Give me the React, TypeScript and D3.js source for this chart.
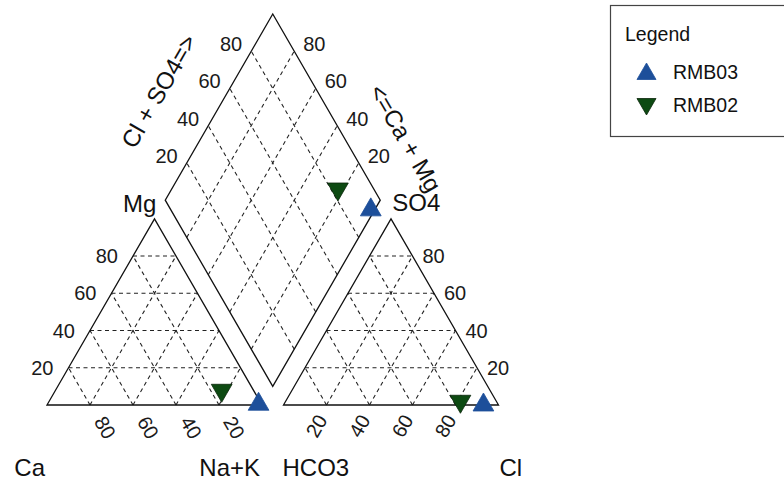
import React from 'react';
import * as d3 from 'd3';

// ---- data (percent of meq) ----
const samples = ['RMB03', 'RMB02'];
const caPct = [1.4, 14.8];
const mgPct = [0.4, 7.9];
const nakPct = [98.2, 77.3];
const hco3Pct = [7, 16.7];
const so4Pct = [0, 2];
const clPct = [93, 81.3];
const sampleColors = ['#1d4f9a', '#0d4a12'];
const sampleShapes = ['up', 'down'];
const gridPct = [20, 40, 60, 80];

const H = Math.sqrt(3) / 2;
const FONT = '"Liberation Sans", Arial, sans-serif';

const xs = d3.scaleLinear().domain([0, 1]).range([47, 262]);
const ys = d3.scaleLinear().domain([0, 1]).range([405, 190]);
const X = (u: number) => xs(u);
const Y = (v: number) => ys(v);

type P = [number, number];
const pt = (p: P) => `${X(p[0]).toFixed(2)},${Y(p[1]).toFixed(2)}`;
const poly = (ps: P[]) => ps.map(pt).join(' ');

function tri(x: number, y: number, r: number, up: boolean) {
  const w = r * H;
  if (up) return `${x},${y - r} ${x + w},${y + r / 2} ${x - w},${y + r / 2}`;
  return `${x},${y + r} ${x + w},${y - r / 2} ${x - w},${y - r / 2}`;
}

export default function App() {
  const off = 1.1;
  const B: P = [1.05, 0.1 * H];
  const L: P = [B[0] - 0.5, B[1] + H];
  const R: P = [B[0] + 0.5, B[1] + H];
  const T: P = [B[0], B[1] + 2 * H];

  const grid: [P, P][] = [];
  gridPct.forEach((p) => {
    const f = p / 100;
    // left triangle
    grid.push([[f / 2, f * H], [1 - f / 2, f * H]]);
    grid.push([[1 - f, 0], [(1 - f) / 2, (1 - f) * H]]);
    grid.push([[f, 0], [f + (1 - f) / 2, (1 - f) * H]]);
    // right triangle
    grid.push([[off + f / 2, f * H], [off + 1 - f / 2, f * H]]);
    grid.push([[off + f, 0], [off + f + (1 - f) / 2, (1 - f) * H]]);
    grid.push([[off + 1 - f, 0], [off + (1 - f) / 2, (1 - f) * H]]);
    // diamond
    const a: P = [B[0] - 0.5 * f, B[1] + H * f];
    grid.push([a, [a[0] + 0.5, a[1] + H]]);
    const b: P = [B[0] + 0.5 * f, B[1] + H * f];
    grid.push([b, [b[0] - 0.5, b[1] + H]]);
  });

  const pts = samples.map((s, i) => {
    const uc = nakPct[i] / 100 + mgPct[i] / 200;
    const vc = (mgPct[i] / 100) * H;
    const ua = off + clPct[i] / 100 + so4Pct[i] / 200;
    const va = (so4Pct[i] / 100) * H;
    const t = ((ua - uc) / 0.5 + (va - vc) / H) / 2;
    const ud = uc + 0.5 * t;
    const vd = vc + H * t;
    return { s, i, c: [uc, vc] as P, a: [ua, va] as P, d: [ud, vd] as P };
  });

  const tickFs = 20;
  const nameFs = 24;

  const midUL: P = [(L[0] + T[0]) / 2, (L[1] + T[1]) / 2];
  const midUR: P = [(R[0] + T[0]) / 2, (R[1] + T[1]) / 2];

  return (
    <svg width={784} height={485} style={{ display: 'block', position: 'absolute', left: 0, top: 0 }} fontFamily={FONT}>
      <rect x={0} y={0} width={784} height={485} fill="#fff" />
      {/* grid */}
      <g stroke="#222" strokeWidth={1.1} strokeDasharray="4,3.5" fill="none">
        {grid.map((g, k) => (
          <line key={k} x1={X(g[0][0])} y1={Y(g[0][1])} x2={X(g[1][0])} y2={Y(g[1][1])} />
        ))}
      </g>
      {/* outlines */}
      <g stroke="#111" strokeWidth={1.3} fill="none">
        <polygon points={poly([[0, 0], [1, 0], [0.5, H]])} />
        <polygon points={poly([[off, 0], [off + 1, 0], [off + 0.5, H]])} />
        <polygon points={poly([B, R, T, L])} />
      </g>
      {/* tick labels */}
      <g fontSize={tickFs} fill="#1a1a1a">
        {gridPct.map((p) => {
          const f = p / 100;
          const d = 15;
          return (
            <g key={p}>
              <text x={X(f / 2) - 15} y={Y(f * H)} textAnchor="end" dominantBaseline="central">{p}</text>
              <text transform={`translate(${X(1 - f) + d * 0.5 + 2},${Y(0) + d * H}) rotate(60)`} textAnchor="start" dominantBaseline="central">{p}</text>
              <text x={X(off + 1 - f / 2) + 10} y={Y(f * H)} textAnchor="start" dominantBaseline="central">{p}</text>
              <text transform={`translate(${X(off + f) - 13 * 0.5 + 2},${Y(0) + 13 * H}) rotate(-60)`} textAnchor="end" dominantBaseline="central">{p}</text>
              <text x={X(L[0] + 0.5 * f) - 9} y={Y(L[1] + H * f) - 7} textAnchor="end" dominantBaseline="central">{p}</text>
              <text x={X(R[0] - 0.5 * f) + 9} y={Y(R[1] + H * f) - 7} textAnchor="start" dominantBaseline="central">{p}</text>
            </g>
          );
        })}
      </g>
      {/* axis names */}
      <g fontSize={nameFs} fill="#111">
        <text x={X(0) - 2} y={476} textAnchor="end">Ca</text>
        <text x={X(1) - 2} y={476} textAnchor="end">Na+K</text>
        <text x={X(off) - 1} y={476} textAnchor="start">HCO3</text>
        <text x={X(off + 1) + 1} y={476} textAnchor="start">Cl</text>
        <text x={X(L[0]) - 9} y={Y(L[1]) + 3} textAnchor="end" dominantBaseline="central">Mg</text>
        <text x={X(R[0]) + 12} y={Y(R[1]) + 2} textAnchor="start" dominantBaseline="central">SO4</text>
        <text transform={`translate(${X(midUL[0]) - 60},${Y(midUL[1]) - 16}) rotate(-60)`} textAnchor="middle" dominantBaseline="central">{'Cl + SO4=>'}</text>
        <text transform={`translate(${X(midUR[0]) + 79},${Y(midUR[1]) + 31}) rotate(60)`} textAnchor="middle" dominantBaseline="central">{'<=Ca + Mg'}</text>
      </g>
      {/* points */}
      {pts.map((p) => {
        const up = sampleShapes[p.i] === 'up';
        const col = sampleColors[p.i];
        return (
          <g key={p.s} fill={col} stroke={up ? col : '#0a260a'} strokeWidth={0.8}>
            {[p.c, p.a, p.d].map((q, k) => (
              <polygon key={k} points={tri(X(q[0]), Y(q[1]), 12, up)} />
            ))}
          </g>
        );
      })}
      {/* legend */}
      <g>
        <rect x={610.5} y={5.5} width={200} height={131} fill="#fff" stroke="#444" strokeWidth={1.2} />
        <text x={625} y={41} fontSize={19.5} fill="#111">Legend</text>
        {samples.map((s, i) => {
          const cy = 72 + i * 33;
          const up = sampleShapes[i] === 'up';
          return (
            <g key={s}>
              <polygon points={tri(646.5, cy + (up ? 2 : -1), 11, up)} fill={sampleColors[i]} stroke={up ? sampleColors[i] : '#0a260a'} strokeWidth={0.8} />
              <text x={673} y={cy} fontSize={19.5} fill="#111" dominantBaseline="central">{s}</text>
            </g>
          );
        })}
      </g>
    </svg>
  );
}
